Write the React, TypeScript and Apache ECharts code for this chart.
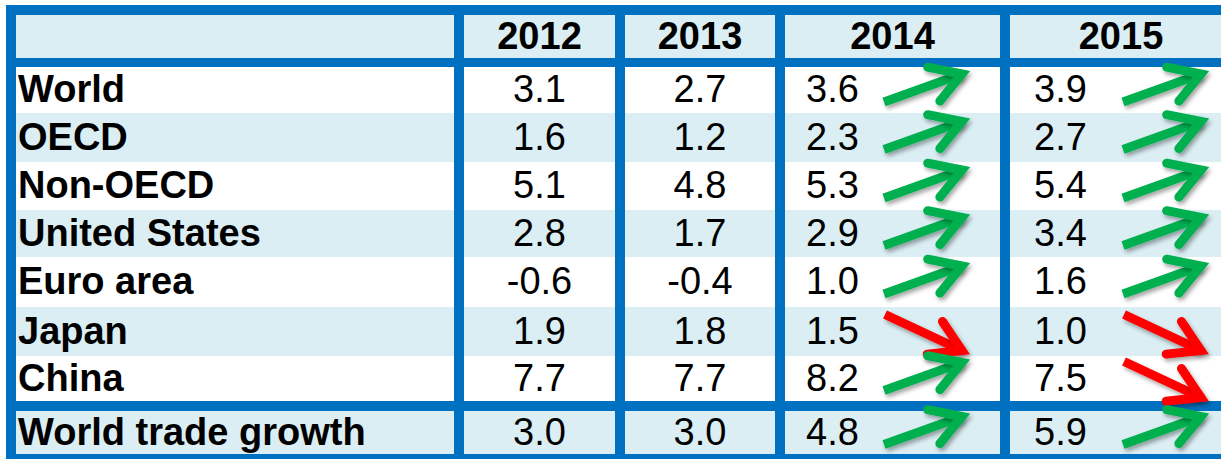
import React, { useEffect, useRef } from "react";
import * as echarts from "echarts";

// ---------- data ----------
const years = ["2012", "2013", "2014", "2015"];
const regions = ["World", "OECD", "Non-OECD", "United States", "Euro area", "Japan", "China"];
const footerLabel = "World trade growth";
const v2012 = [3.1, 1.6, 5.1, 2.8, -0.6, 1.9, 7.7];
const v2013 = [2.7, 1.2, 4.8, 1.7, -0.4, 1.8, 7.7];
const v2014 = [3.6, 2.3, 5.3, 2.9, 1.0, 1.5, 8.2];
const v2015 = [3.9, 2.7, 5.4, 3.4, 1.6, 1.0, 7.5];
const tradeGrowth = [3.0, 3.0, 4.8, 5.9];

// ---------- layout (pixels) ----------
const BLUE = "#0070C0";
const LIGHT = "#DAEEF3";
const WHITE = "#FFFFFF";
const GREEN = "#00B050";
const RED = "#FF0000";
const FONT = "'Liberation Sans', Arial, Helvetica, sans-serif";
const FS = 38;

const frame = [6, 5, 1240, 466];
// label, 2012, 2013, 2014, 2015
const colEdges: [number, number][] = [[16, 454], [464, 615], [625, 775], [785, 1000], [1010, 1232]];
const headerEdge: [number, number] = [15, 58];
const rowEdges: [number, number][] = [[67, 113], [113, 162], [162, 210], [210, 257], [257, 307], [307, 356], [356, 401]];
const footerEdge: [number, number] = [411, 454];
// arrow offsets inside the 2014/2015 cells (tail x, tip x from cell left)
const arrowX: Record<number, [number, number]> = { 3: [99, 177], 4: [113, 191] };
// value columns that are left aligned: text x offset from cell left
const leftAlignOffset: Record<number, number> = { 3: 21, 4: 24 };

type Cell = {
  x0: number; y0: number; x1: number; y1: number;
  fill: string; text?: string; bold?: boolean; align?: "left" | "center"; tx?: number;
};
type Arrow = { col: number; y0: number; y1: number; up: boolean };

const yearValues = [v2012, v2013, v2014, v2015];

function buildCells(): Cell[] {
  const cells: Cell[] = [];
  cells.push({ x0: frame[0], y0: frame[1], x1: frame[2], y1: frame[3], fill: BLUE });
  colEdges.forEach((c, ci) => {
    cells.push({
      x0: c[0], y0: headerEdge[0], x1: c[1], y1: headerEdge[1], fill: LIGHT,
      text: ci === 0 ? undefined : years[ci - 1], bold: true, align: "center",
    });
  });
  const addRow = (label: string, vals: number[], edge: [number, number], fill: string) => {
    colEdges.forEach((c, ci) => {
      if (ci === 0) {
        cells.push({ x0: c[0], y0: edge[0], x1: c[1], y1: edge[1], fill, text: label, bold: true, align: "left", tx: c[0] + 2 });
      } else {
        const v = vals[ci - 1];
        const lo = leftAlignOffset[ci];
        cells.push({
          x0: c[0], y0: edge[0], x1: c[1], y1: edge[1], fill, text: v.toFixed(1), bold: false,
          align: lo !== undefined ? "left" : "center", tx: lo !== undefined ? c[0] + lo : undefined,
        });
      }
    });
  };
  regions.forEach((r, ri) => {
    addRow(r, yearValues.map((yv) => yv[ri]), rowEdges[ri], ri % 2 === 0 ? WHITE : LIGHT);
  });
  addRow(footerLabel, tradeGrowth, footerEdge, LIGHT);
  return cells;
}

function buildArrows(): Arrow[] {
  const arrows: Arrow[] = [];
  const allRows = regions.map((_, ri) => ({ vals: yearValues.map((yv) => yv[ri]), edge: rowEdges[ri] }));
  allRows.push({ vals: tradeGrowth, edge: footerEdge });
  allRows.forEach((row) => {
    [2, 3].forEach((yi) => {
      arrows.push({ col: yi + 1, y0: row.edge[0], y1: row.edge[1], up: row.vals[yi] > row.vals[yi - 1] });
    });
  });
  return arrows;
}

const cells = buildCells();
const arrows = buildArrows();

export default function App() {
  const ref = useRef<HTMLDivElement>(null);
  useEffect(() => {
    if (!ref.current) return;
    const chart = echarts.init(ref.current, undefined, { renderer: "svg" });
    const shadow = { shadowBlur: 4, shadowOffsetX: 2, shadowOffsetY: 3, shadowColor: "rgba(0,0,0,0.35)" };
    chart.setOption({
      animation: false,
      grid: { left: 0, right: 0, top: 0, bottom: 0 },
      xAxis: { type: "value", min: 0, max: 1221, show: false },
      yAxis: { type: "value", min: 0, max: 459, inverse: true, show: false },
      series: [
        {
          type: "custom",
          z: 2,
          silent: true,
          data: cells.map((c) => [c.x0, c.y0]),
          renderItem: (params: any, api: any) => {
            const c = cells[params.dataIndex];
            const p0 = api.coord([c.x0, c.y0]);
            const p1 = api.coord([c.x1, c.y1]);
            const children: any[] = [
              { type: "rect", shape: { x: p0[0], y: p0[1], width: p1[0] - p0[0], height: p1[1] - p0[1] }, style: { fill: c.fill } },
            ];
            if (c.text) {
              const tx = c.align === "center" ? (p0[0] + p1[0]) / 2 : api.coord([c.tx, 0])[0];
              children.push({
                type: "text",
                x: tx,
                y: (p0[1] + p1[1]) / 2 - 1,
                style: {
                  text: c.text, fill: "#000", fontSize: FS, fontFamily: FONT,
                  fontWeight: c.bold ? "bold" : "normal", align: c.align, verticalAlign: "middle",
                },
              });
            }
            return { type: "group", children };
          },
        },
        {
          type: "custom",
          z: 5,
          silent: true,
          data: arrows.map((a) => [colEdges[a.col][0], a.y0]),
          renderItem: (params: any, api: any) => {
            const a = arrows[params.dataIndex];
            const left = colEdges[a.col][0];
            const cy = (a.y0 + a.y1) / 2;
            const [ox0, ox1] = arrowX[a.col];
            const tailD = a.up ? [left + ox0, cy + 12] : [left + ox0 + 1, cy - 17];
            const tipD = a.up ? [left + ox1, cy - 16] : [left + ox1, cy + 19];
            const tail = api.coord(tailD);
            const tip = api.coord(tipD);
            const dx = tail[0] - tip[0];
            const dy = tail[1] - tip[1];
            const len = Math.sqrt(dx * dx + dy * dy);
            const ux = dx / len;
            const uy = dy / len;
            const ang = (31 * Math.PI) / 180;
            const armLen = 35;
            const rot = (s: number) => [
              tip[0] + armLen * (ux * Math.cos(s * ang) - uy * Math.sin(s * ang)),
              tip[1] + armLen * (ux * Math.sin(s * ang) + uy * Math.cos(s * ang)),
            ];
            const color = a.up ? GREEN : RED;
            return {
              type: "group",
              children: [
                {
                  type: "line",
                  shape: { x1: tail[0], y1: tail[1], x2: tip[0], y2: tip[1] },
                  style: { stroke: color, lineWidth: 9, lineCap: "butt", ...shadow },
                },
                {
                  type: "polyline",
                  shape: { points: [rot(1), tip, rot(-1)] },
                  style: { stroke: color, fill: null, lineWidth: 9, lineCap: "round", lineJoin: "miter", miterLimit: 10, ...shadow },
                },
              ],
            };
          },
        },
      ],
    });
    return () => chart.dispose();
  }, []);
  return <div ref={ref} style={{ position: "absolute", left: 0, top: 0, width: 1221, height: 459 }} />;
}
